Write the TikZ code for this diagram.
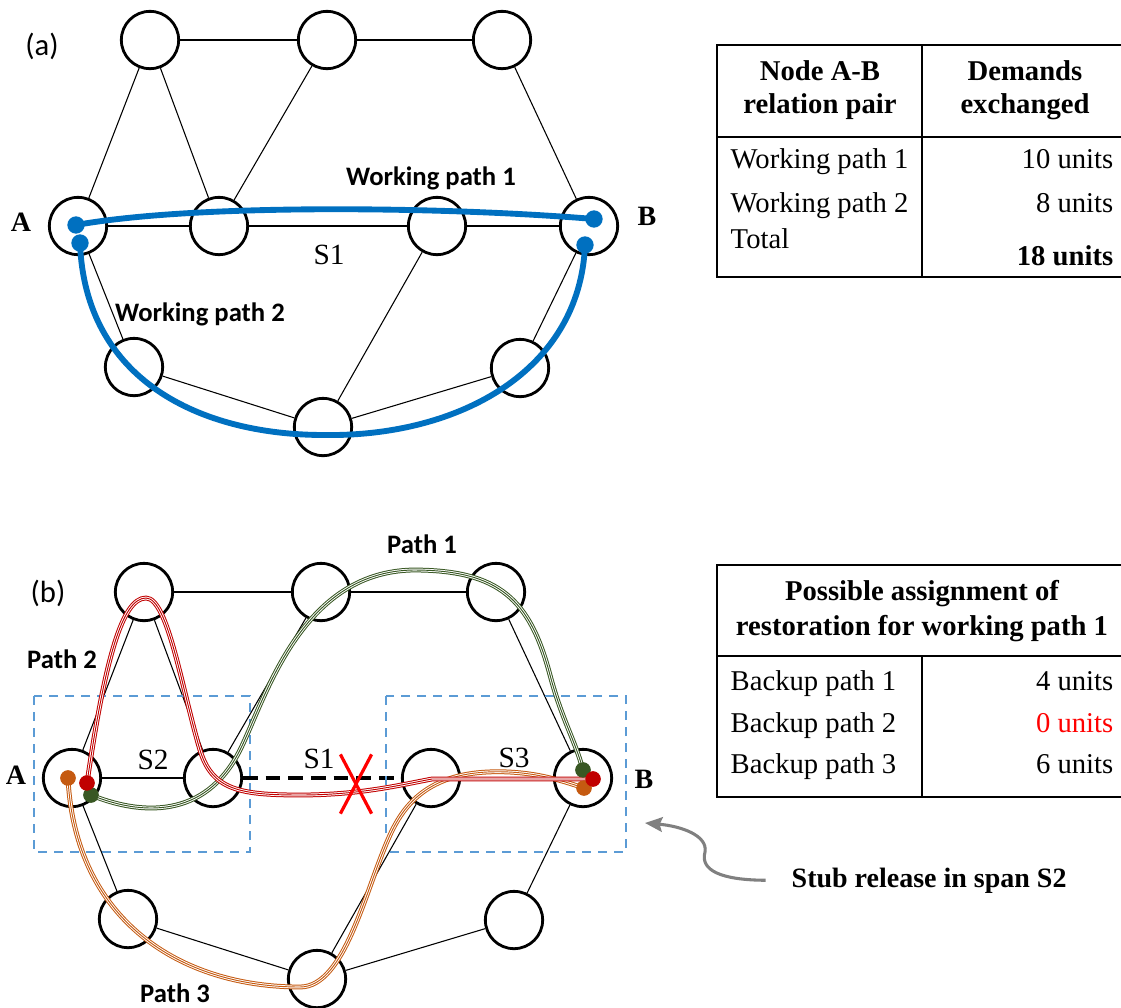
\documentclass[tikz,border=0pt]{standalone}
\usepackage{fontspec}
\setmainfont{Liberation Serif}
\newfontfamily\calibri{Carlito}
\usetikzlibrary{arrows.meta,shapes.misc}

\definecolor{wpblue}{RGB}{0,112,192}
\definecolor{p1green}{RGB}{56,87,35}
\definecolor{p2red}{RGB}{192,0,0}
\definecolor{p3orange}{RGB}{197,90,17}
\definecolor{boxblue}{RGB}{91,155,213}
\definecolor{stubgray}{RGB}{128,128,128}

\begin{document}
\begin{tikzpicture}
      [x=0.75pt, y=-0.75pt,
      net node/.style={draw, circle, line width=2.1pt, minimum size=43pt, inner sep=0pt},
      net edge/.style={line width=0.8pt},
      work path/.style={draw=wpblue, line width=4.4pt, line cap=round},
      triple line/.style={draw=#1, line width=3.6pt, postaction={draw=white, line width=2.1pt}, postaction={draw=#1, line width=0.7pt}},
      end dot/.style={circle, fill=#1, minimum size=11.5pt, inner sep=0pt},
      path label/.style={font=\calibri\bfseries\fontsize{20}{24}\selectfont, anchor=base},
      part label/.style={font=\calibri\fontsize{23}{27}\selectfont},
      span label/.style={font=\fontsize{22}{26}\selectfont, anchor=base},
      end label/.style={font=\bfseries\fontsize{21}{25}\selectfont},
      tab text/.style={font=\fontsize{21.5}{26}\selectfont},
      tab head/.style={font=\bfseries\fontsize{21.5}{26}\selectfont, anchor=base},
      tab line/.style={line width=1.1pt},
      span box/.style={draw=boxblue, line width=1.6pt, dash pattern=on 7pt off 5pt},
      stub arrow/.style={draw=stubgray, line width=2.3pt, -{Stealth[length=13pt, width=11pt, inset=2pt]}},
      ]
    \useasboundingbox (0,0) rectangle (1121,1007);

    % the same network, drawn for (a) and (b)
    \foreach \p/\dx/\dy in {a/0/0, b/-6/552} {
      \begin{scope}[shift={(\dx,\dy)}]
        \node[net node] (\p-T1) at (150,40) {};
        \node[net node] (\p-T2) at (327,40) {};
        \node[net node] (\p-T3) at (502,40) {};
        \node[net node] (\p-A) at (78,226) {};
        \node[net node] (\p-M1) at (219,226) {};
        \node[net node] (\p-M2) at (437,226) {};
        \node[net node] (\p-B) at (589,226) {};
        \node[net node] (\p-L) at (134,367) {};
        \node[net node] (\p-R) at (520,368) {};
        \node[net node] (\p-Bot) at (323,427) {};
        \foreach \u/\v in {T1/T2, T2/T3, T1/A, T1/M1, T2/M1, T3/B, A/M1, M2/B, A/L, L/Bot, Bot/R, R/B, M2/Bot}
          \draw[net edge] (\p-\u) -- (\p-\v);
      \end{scope}
    }

    % (a) working paths
    \draw[net edge] (a-M1) -- (a-M2);
    \node[part label] (a-tag) at (42,46) {(a)};
    \node[end label] (a-Alab) at (21,222) {A};
    \node[end label] (a-Blab) at (647,216) {B};
    \node[span label] (a-S1) at (329,264) {S1};
    \node[path label] (wp1) at (431,185) {Working path 1};
    \node[path label] (wp2) at (200,321) {Working path 2};
    \coordinate (a-d1) at (76,225);
    \coordinate (a-d2) at (594,219);
    \coordinate (a-d3) at (80,243);
    \coordinate (a-d4) at (585,245);
    \draw[work path] (a-d1) .. controls (200,203) and (450,207) .. (a-d2);
    \draw[work path] (a-d3) .. controls (85,380) and (200,435) .. (324,435) .. controls (460,437) and (580,370) .. (a-d4);
    \foreach \d in {a-d1, a-d2, a-d3, a-d4}
      \node[end dot=wpblue, minimum size=13pt] at (\d) {};

    % (b) failed span and backup paths
    \draw[line width=2.3pt, dash pattern=on 11pt off 6pt] (b-M1) -- (b-M2);
    \draw[span box] (34,696) rectangle (250,852);
    \draw[span box] (386,696) rectangle (626,852);
    \node[part label] (b-tag) at (48,593) {(b)};
    \node[end label] (b-Alab) at (16,775) {A};
    \node[end label] (b-Blab) at (644,779) {B};
    \node[span label] (b-S2) at (153,769) {S2};
    \node[span label] (b-S1) at (319,768) {S1};
    \node[span label] (b-S3) at (514,767) {S3};
    \node[path label] (bp1) at (422,553) {Path 1};
    \node[path label] (bp2) at (62,668) {Path 2};
    \node[path label] (bp3) at (175,1002) {Path 3};

    \node[end dot=p3orange] (oA) at (68,778) {};
    \node[end dot=p2red] (rA) at (87,783) {};
    \node[end dot=p1green] (gA) at (91,795) {};
    \node[end dot=p1green] (gB) at (583,770) {};
    \node[end dot=p3orange] (oB) at (584,788) {};
    \node[end dot=p2red] (rB) at (593,779) {};

    \draw[triple line=p1green] (gA.center) .. controls (140,815) and (205,820) .. (240,750)
      .. controls (265,700) and (300,572) .. (413,570) .. controls (500,570) and (530,600) .. (550,675)
      .. controls (562,720) and (575,740) .. (gB.center);
    \draw[triple line=p3orange] (oA.center) .. controls (75,920) and (180,987) .. (300,987)
      .. controls (345,987) and (365,890) .. (390,835) .. controls (405,802) and (430,775) .. (487,772)
      .. controls (530,770) and (560,780) .. (oB.center);
    \draw[triple line=p2red] (rA.center) .. controls (105,660) and (122,598) .. (146,598)
      .. controls (168,598) and (182,690) .. (200,750) .. controls (212,790) and (240,795) .. (300,795)
      .. controls (360,795) and (400,785) .. (432,779) -- (rB.center);

    % dots on top of the paths
    \node[end dot=p3orange] at (oA) {};
    \node[end dot=p1green] at (gA) {};
    \node[end dot=p2red] at (rA) {};
    \node[end dot=p1green] at (gB) {};
    \node[end dot=p3orange] at (oB) {};
    \node[end dot=p2red] at (rB) {};

    \node[cross out, draw=red, line width=2.4pt, minimum width=21pt, minimum height=42pt, inner sep=0pt] (cut) at (356,784) {};

    % stub release note
    \node[end label, anchor=base west] (stub) at (787,887) {Stub release in span S2};
    \coordinate (stub tip) at (645,823);
    \draw[stub arrow] ([xshift=-16pt]stub.west) .. controls (720,880) and (700,870) .. (705,852)
      .. controls (708,835) and (680,826) .. (stub tip);

    % table (a)
    \draw[tab line] (717,45) rectangle (1130,277);
    \draw[tab line] (717,137) -- (1130,137);
    \draw[tab line] (922,45) -- (922,277);
    \node[tab head] (ta-h1) at (820,80) {Node A-B};
    \node[tab head] (ta-h2) at (820,113) {relation pair};
    \node[tab head] (ta-h3) at (1025,80) {Demands};
    \node[tab head] (ta-h4) at (1025,113) {exchanged};
    \node[tab text, anchor=base west] (ta-r1) at (726,168) {Working path 1};
    \node[tab text, anchor=base west] (ta-r2) at (726,212) {Working path 2};
    \node[tab text, anchor=base west] (ta-r3) at (726,248) {Total};
    \node[tab text, anchor=base east] (ta-v1) at (1118,168) {10 units};
    \node[tab text, anchor=base east] (ta-v2) at (1118,212) {8 units};
    \node[tab head, anchor=base east] (ta-v3) at (1118,265) {18 units};

    % table (b)
    \draw[tab line] (717,565) rectangle (1130,797);
    \draw[tab line] (717,656) -- (1130,656);
    \draw[tab line] (922,656) -- (922,797);
    \node[tab head] (tb-h1) at (922,600) {Possible assignment of};
    \node[tab head] (tb-h2) at (922,635) {restoration for working path 1};
    \node[tab text, anchor=base west] (tb-r1) at (726,690) {Backup path 1};
    \node[tab text, anchor=base west] (tb-r2) at (726,732) {Backup path 2};
    \node[tab text, anchor=base west] (tb-r3) at (726,773) {Backup path 3};
    \node[tab text, anchor=base east] (tb-v1) at (1118,690) {4 units};
    \node[tab text, anchor=base east, text=red] (tb-v2) at (1118,732) {0 units};
    \node[tab text, anchor=base east] (tb-v3) at (1118,773) {6 units};
\end{tikzpicture}
\end{document}
